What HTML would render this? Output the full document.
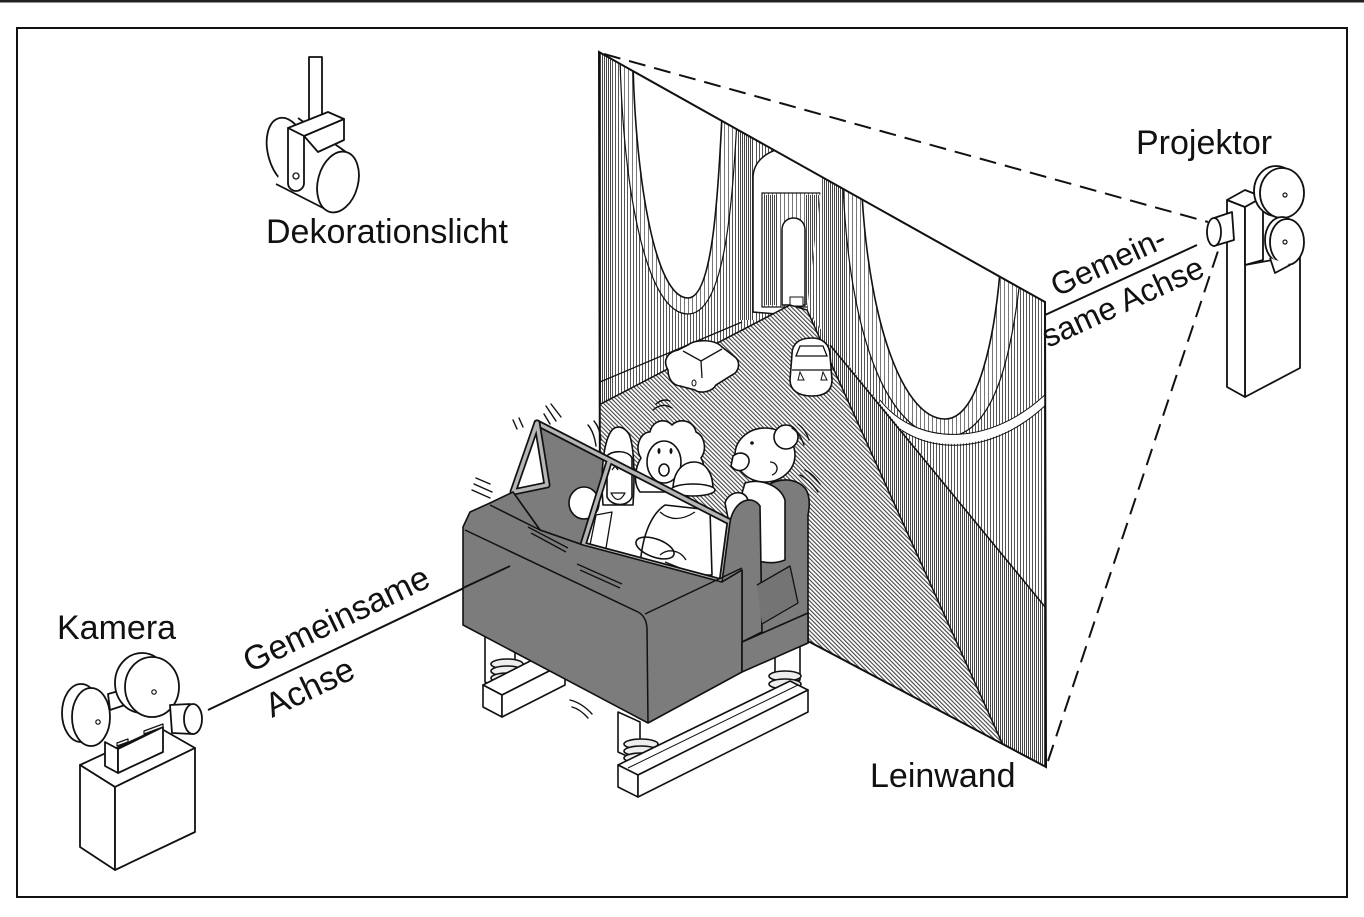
<!DOCTYPE html>
<html><head><meta charset="utf-8"><style>
html,body{margin:0;padding:0;background:#fff;}
svg{display:block;}
text{font-family:"Liberation Sans",Arial,sans-serif;fill:#111;}
</style></head><body>
<svg width="1364" height="917" viewBox="0 0 1364 917" xmlns="http://www.w3.org/2000/svg">
<defs>
<pattern id="vsA" width="3" height="6" patternUnits="userSpaceOnUse"><rect width="3" height="6" fill="#fff"/><rect width="1" height="6" fill="#555"/></pattern>
<pattern id="vsB" width="2" height="6" patternUnits="userSpaceOnUse"><rect width="2" height="6" fill="#fff"/><rect width="1" height="6" fill="#444"/></pattern>
<pattern id="vsC" width="4" height="6" patternUnits="userSpaceOnUse"><rect width="4" height="6" fill="#fff"/><rect width="1" height="6" fill="#777"/></pattern>
<pattern id="diag" width="3" height="3" patternUnits="userSpaceOnUse" patternTransform="rotate(-45)"><rect width="3" height="3" fill="#fff"/><rect width="1.1" height="3" fill="#444"/></pattern>
<clipPath id="scr"><polygon points="599,52 1045,302 1046,767 600,531"/></clipPath>
</defs>

<rect width="1364" height="917" fill="#fff"/>
<rect x="0" y="0" width="1364" height="2.5" fill="#222"/>
<rect x="17" y="28" width="1330" height="869" fill="none" stroke="#111" stroke-width="2"/>

<!-- ===== SCREEN ===== -->
<g clip-path="url(#scr)">
  <rect x="595" y="45" width="460" height="730" fill="url(#vsA)"/>
  <rect x="600" y="45" width="11" height="500" fill="url(#vsB)"/>
  <!-- left drape -->
  <path d="M620,60 C624,200 648,314 688,314 C724,314 732,210 737,120 Z" fill="url(#vsC)" stroke="#111" stroke-width="1.2"/>
  <path d="M633,66 C636,180 655,298 688,298 C712,298 718,200 722,115 Z" fill="#fff" stroke="#111" stroke-width="1.6"/>
  <rect x="737" y="100" width="17" height="220" fill="url(#vsB)"/>
  <!-- gate -->
  <path d="M753,312 L753,178 C753,160 770,148 790,148 C810,148 823,162 823,180 L823,318 Z" fill="#fff" stroke="#111" stroke-width="1.5"/>
  <rect x="762" y="193" width="58" height="114" fill="url(#vsC)" stroke="#111" stroke-width="1.2"/>
  <rect x="763" y="195" width="14" height="110" fill="url(#vsB)"/>
  <rect x="806" y="195" width="14" height="110" fill="url(#vsB)"/>
  <path d="M782,305 L782,230 C782,214 805,214 805,230 L805,305 Z" fill="#fff" stroke="#111" stroke-width="1.5"/>
  <rect x="790" y="297" width="13" height="9" fill="#fff" stroke="#111" stroke-width="1"/>
  <!-- right wall -->
  <polygon points="823,170 1050,295 1050,770 1003,745 807,310" fill="url(#vsA)"/>
  <rect x="823" y="170" width="22" height="200" fill="url(#vsB)"/>
  <path d="M843,185 C850,350 893,437 945,437 C998,437 1013,340 1020,280 Z" fill="url(#vsC)" stroke="#111" stroke-width="1.2"/>
  <path d="M862,195 C870,330 905,419 945,419 C980,419 995,330 1000,272 Z" fill="#fff" stroke="#111" stroke-width="1.6"/>
  <path d="M880,405 C915,450 990,455 1050,395" fill="none" stroke="#fff" stroke-width="9"/>
  <path d="M880,400 C915,445 990,450 1050,390 M880,410 C915,456 990,461 1050,401" fill="none" stroke="#111" stroke-width="1"/>
  <polygon points="807,310 832,345 1050,612 1050,770 1003,745" fill="url(#vsB)"/>
  <line x1="830" y1="345" x2="1046" y2="608" stroke="#111" stroke-width="1.5"/>
  <!-- road -->
  <polygon points="595,407 790,305 807,310 1003,745 595,535" fill="url(#diag)" stroke="#111" stroke-width="1.5"/>
  <line x1="600" y1="382" x2="742" y2="322" stroke="#111" stroke-width="1.3"/>
  <!-- cars -->
  <path d="M668,370 C662,360 668,352 678,350 L688,345 C695,339 715,339 722,347 L735,357 C741,362 739,372 732,375 L716,385 C712,392 700,394 695,390 L680,386 C672,385 668,378 668,370 Z" fill="#fff" stroke="#111" stroke-width="1.6"/>
  <path d="M683,351 L701,361 L722,349 M701,361 L702,378" fill="none" stroke="#111" stroke-width="1.3"/>
  <ellipse cx="694" cy="383" rx="2" ry="3" fill="none" stroke="#111"/>
  <path d="M792,354 C792,343 800,338 812,338 C822,338 830,344 830,355 L832,380 C832,390 826,396 812,396 C798,396 790,390 790,380 Z" fill="#fff" stroke="#111" stroke-width="1.6"/>
  <path d="M796,356 L827,356 L823,346 L800,346 Z M792,370 L831,370" fill="none" stroke="#111" stroke-width="1.3"/>
  <path d="M800,372 L798,380 L804,380 Z M823,372 L821,380 L827,380 Z" fill="#fff" stroke="#111" stroke-width="1"/>
</g>
<polygon points="599,52 1045,302 1046,767 600,531" fill="none" stroke="#111" stroke-width="2"/>

<!-- projection lines -->
<line x1="604" y1="54" x2="1208" y2="222" stroke="#111" stroke-width="2" stroke-dasharray="17 9"/>
<line x1="1048" y1="761" x2="1219" y2="248" stroke="#111" stroke-width="2" stroke-dasharray="17 9"/>
<line x1="1045" y1="315" x2="1197" y2="245" stroke="#111" stroke-width="2"/>

<!-- ===== PROJECTOR ===== -->
<g stroke="#111" stroke-width="1.8" fill="#fff" stroke-linejoin="round">
  <polygon points="1245,265 1300,255 1300,368 1245,397"/>
  <polygon points="1227,200 1245,207 1245,397 1227,387"/>
  <polygon points="1227,200 1245,207 1263,197 1245,190"/>
  <polygon points="1245,207 1263,197 1263,260 1245,265"/>
  <ellipse cx="1276" cy="191" rx="22" ry="25"/>
  <ellipse cx="1282" cy="193" rx="22" ry="25"/>
  <ellipse cx="1282" cy="240" rx="17" ry="23"/>
  <ellipse cx="1287" cy="242" rx="17" ry="23"/>
  <path d="M1270,258 L1275,273 L1290,265"/>
  <path d="M1214,218 L1232,212 L1234,240 L1214,246 Z"/>
  <ellipse cx="1214" cy="232" rx="7" ry="14"/>
  <circle cx="1285" cy="195" r="2" fill="#fff" stroke-width="1.2"/>
  <circle cx="1285" cy="242" r="2" fill="#fff" stroke-width="1.2"/>
</g>

<!-- ===== CAMERA ===== -->
<line x1="208" y1="710" x2="510" y2="566" stroke="#111" stroke-width="2"/>
<g stroke="#111" stroke-width="1.8" fill="#fff" stroke-linejoin="round">
  <polygon points="80,765 115,787 195,748 160,728"/>
  <polygon points="80,765 115,787 115,870 80,847"/>
  <polygon points="115,787 195,748 195,832 115,870"/>
  <polygon points="105,742 118,749 118,773 105,766"/>
  <polygon points="118,749 163,727 163,752 118,773"/>
  <ellipse cx="81" cy="713" rx="19" ry="29"/>
  <ellipse cx="91" cy="717" rx="19" ry="29"/>
  <polygon points="108,694 122,690 125,705 110,710"/>
  <ellipse cx="142" cy="683" rx="27" ry="30"/>
  <ellipse cx="152" cy="687" rx="27" ry="30"/>
  <path d="M170,705 L190,704 L193,734 L172,733 Z"/>
  <ellipse cx="193" cy="719" rx="9" ry="15"/>
  <circle cx="98" cy="722" r="2.2" stroke-width="1.2"/>
  <circle cx="154" cy="692" r="2.2" stroke-width="1.2"/>
  <path d="M144,731 L163,724 L163,727 L144,734 Z" stroke-width="1.2"/>
  <path d="M117,743 L128,739 L128,742 L117,746 Z" stroke-width="1.2"/>
</g>

<!-- ===== DECORATION LIGHT ===== -->
<g stroke="#111" stroke-width="1.8" fill="#fff" stroke-linejoin="round">
  <rect x="309" y="57" width="13" height="70"/>
  <ellipse cx="288" cy="152" rx="20" ry="35" transform="rotate(-15 288 152)"/>
  <polygon points="298,118 346,152 331,212 276,184" stroke="none"/>
  <line x1="298" y1="118" x2="346" y2="152"/>
  <line x1="276" y1="184" x2="331" y2="212"/>
  <polygon points="304,136 344,119 344,140 318,152"/>
  <polygon points="288,128 304,136 344,119 328,112"/>
  <path d="M288,128 L304,136 L304,183 A8,8 0 0 1 288,183 Z"/>
  <circle cx="296" cy="176" r="3" stroke-width="1.3"/>
  <ellipse cx="338" cy="182" rx="20" ry="31" transform="rotate(15 338 182)"/>
</g>

<!-- ===== SIMULATOR CAR ===== -->
<g stroke="#111" stroke-width="1.6" stroke-linejoin="round">
  <!-- base -->
  <polygon points="485,636 500,644 515,636 515,680 500,690 485,682" fill="#fff"/>
  <ellipse cx="507" cy="664" rx="16" ry="5" fill="#eee"/>
  <ellipse cx="507" cy="671" rx="16" ry="5" fill="#eee"/>
  <ellipse cx="507" cy="678" rx="16" ry="5" fill="#eee"/>
  <polygon points="483,685 502,695 565,663 546,653" fill="#fff"/>
  <polygon points="483,685 502,695 502,717 483,707" fill="#fff"/>
  <polygon points="502,695 565,663 565,685 502,717" fill="#fff"/>
  <polygon points="775,630 800,622 800,680 775,688" fill="#fff"/>
  <ellipse cx="785" cy="676" rx="16" ry="5" fill="#eee"/>
  <ellipse cx="785" cy="684" rx="16" ry="5" fill="#eee"/>
  <polygon points="618,712 640,722 640,762 618,752" fill="#fff"/>
  <ellipse cx="641" cy="744" rx="17" ry="5" fill="#eee"/>
  <ellipse cx="641" cy="751" rx="17" ry="5" fill="#eee"/>
  <ellipse cx="641" cy="758" rx="17" ry="5" fill="#eee"/>
  <polygon points="618,765 638,775 808,690 790,681" fill="#fff"/>
  <polygon points="618,765 638,775 638,797 618,787" fill="#fff"/>
  <polygon points="638,775 808,690 808,712 638,797" fill="#fff"/>
  <line x1="628" y1="768" x2="798" y2="685" stroke-width="1"/>

  <!-- seat back -->
  <path d="M757,500 C760,482 790,472 805,488 C810,495 810,505 808,515 L808,643 L762,662 Z" fill="#7c7c7c"/>
  <!-- side interior -->
  <polygon points="513,492 537,423 609,462 583,545 540,530" fill="#7c7c7c"/>
  <polygon points="537,423 513,492 547,485" fill="#fff"/>
  <!-- main windshield pane -->
  <polygon points="609,462 730,522 722,582 583,545" fill="#fff" stroke="none"/>

  <!-- people -->
  <ellipse cx="584" cy="503" rx="15" ry="16" fill="#fff"/>
  <path d="M603,505 C600,470 604,440 612,430 C618,424 625,428 629,434 C634,445 635,475 633,505 Z" fill="#fff"/>
  <path d="M607,456 C612,450 628,450 632,458 L632,497 C628,507 612,507 607,497 Z" fill="#fff"/>
  <path d="M612,470 L615,466 L618,470 M622,470 L625,466 L628,470" fill="none" stroke-width="1.3"/>
  <path d="M611,493 Q618,506 625,493 Z" fill="#fff" stroke-width="1.3"/>
  <path d="M590,545 L596,515 L612,512 L606,548" fill="none" stroke-width="1.3"/>
  <path d="M640,492 C632,482 636,466 641,458 C634,448 640,432 650,432 C652,421 665,417 672,425 C680,417 694,421 696,432 C705,436 707,450 701,458 C707,468 703,482 696,487 C690,494 680,494 675,492 Z" fill="#fff"/>
  <ellipse cx="664" cy="462" rx="17" ry="21" fill="#fff"/>
  <ellipse cx="659" cy="451" rx="1.5" ry="3" fill="#111" stroke="none"/>
  <ellipse cx="671" cy="451" rx="1.5" ry="3" fill="#111" stroke="none"/>
  <ellipse cx="664" cy="470" rx="5" ry="6" fill="#fff"/>
  <path d="M640,575 C640,540 650,515 665,505 L710,510 L712,575 Z" fill="#fff"/>
  <path d="M660,512 Q675,525 695,512" fill="none" stroke-width="1.3"/>
  <ellipse cx="655" cy="548" rx="20" ry="9" transform="rotate(20 655 548)" fill="none"/>
  <path d="M660,555 C668,548 680,550 686,560 M665,562 L680,568" fill="none" stroke-width="1.3"/>
  <path d="M673,490 C673,470 684,462 694,462 C705,462 713,472 713,489 Z" fill="#fff"/>
  <ellipse cx="693" cy="490" rx="22" ry="6" fill="#fff"/>
  <path d="M745,483 C760,478 780,485 785,500 L785,560 C770,566 752,561 742,553 L740,500 Z" fill="#fff"/>
  <path d="M725,503 C728,492 744,488 748,500 L744,522 L728,518 Z" fill="#fff"/>
  <ellipse cx="765" cy="455" rx="30" ry="27" fill="#fff"/>
  <circle cx="786" cy="437" r="12" fill="#fff"/>
  <path d="M733,456 C740,450 750,454 749,462 C747,472 736,473 731,466 Z" fill="#fff"/>
  <circle cx="752" cy="443" r="1.8" fill="#111" stroke="none"/>
  <path d="M770,462 C778,462 780,472 772,475" fill="none" stroke-width="1.3"/>

  <!-- windshield frames -->
  <g fill="none" stroke-linecap="round">
    <polyline points="537,423 730,522 722,582 583,545 609,462" stroke="#111" stroke-width="7"/>
    <polyline points="537,423 730,522 722,582 583,545 609,462" stroke="#b5b5b5" stroke-width="3.5"/>
    <polygon points="537,423 513,492 547,485" stroke="#111" stroke-width="7"/>
    <polygon points="537,423 513,492 547,485" stroke="#b5b5b5" stroke-width="3.5"/>
  </g>

  <!-- armrest -->
  <path d="M722,582 L730,522 C734,500 752,494 760,506 L762,632 L742,642 L742,570 Z" fill="#7c7c7c"/>
  <path d="M757,585 L790,566 L798,603 L762,624" fill="#747474" stroke-width="1.3"/>
  <!-- hood + front -->
  <polygon points="463,527 470,512 490,503 513,492 540,530 583,545 722,582 742,570 742,672 648,723 463,625" fill="#7c7c7c"/>
  <polygon points="742,642 808,613 808,643 742,672" fill="#7c7c7c"/>
  <path d="M465,530 L638,612 Q646,616 647,628 L648,723 M645,614 L742,568 M490,505 L540,530" fill="none" stroke-width="1.5"/>
  <path d="M528,527 L568,548 M531,533 L566,552 M577,564 L622,584 M580,570 L620,588" fill="none" stroke-width="1.3"/>
  <line x1="463" y1="588" x2="510" y2="566" stroke-width="1.8"/>

  <!-- motion lines -->
  <g fill="none" stroke-width="1.4" stroke-linecap="round">
    <path d="M513,420 L517,429 M519,418 L523,427"/>
    <path d="M546,406 L556,421 M551,404 L561,417 M544,414 L550,424"/>
    <path d="M588,425 Q594,432 596,446 M594,421 Q600,428 601,440"/>
    <path d="M474,484 L492,492 M472,490 L490,498 M476,478 L490,484"/>
    <path d="M570,700 Q582,703 592,714 M572,707 Q580,709 588,718"/>
    <path d="M653,410 Q662,402 672,408 M656,404 Q663,398 670,401"/>
    <path d="M792,428 Q800,433 804,445 M798,424 Q806,430 809,440"/>
    <path d="M800,475 Q810,480 818,492 M805,470 Q813,474 820,484"/>
  </g>
</g>

<!-- ===== LABELS ===== -->
<text x="266" y="243" font-size="34">Dekorationslicht</text>
<text x="1136" y="154" font-size="34">Projektor</text>
<text x="57" y="639" font-size="34">Kamera</text>
<text x="870" y="787" font-size="34">Leinwand</text>
<text font-size="34" transform="translate(250,673) rotate(-25.6)">Gemeinsame</text>
<text font-size="34" transform="translate(272,718) rotate(-25.6)">Achse</text>
<text font-size="32" transform="translate(1057,297) rotate(-24.6)">Gemein-</text>
<text font-size="32" transform="translate(1048,348) rotate(-24.6)">same Achse</text>
</svg>
</body></html>
